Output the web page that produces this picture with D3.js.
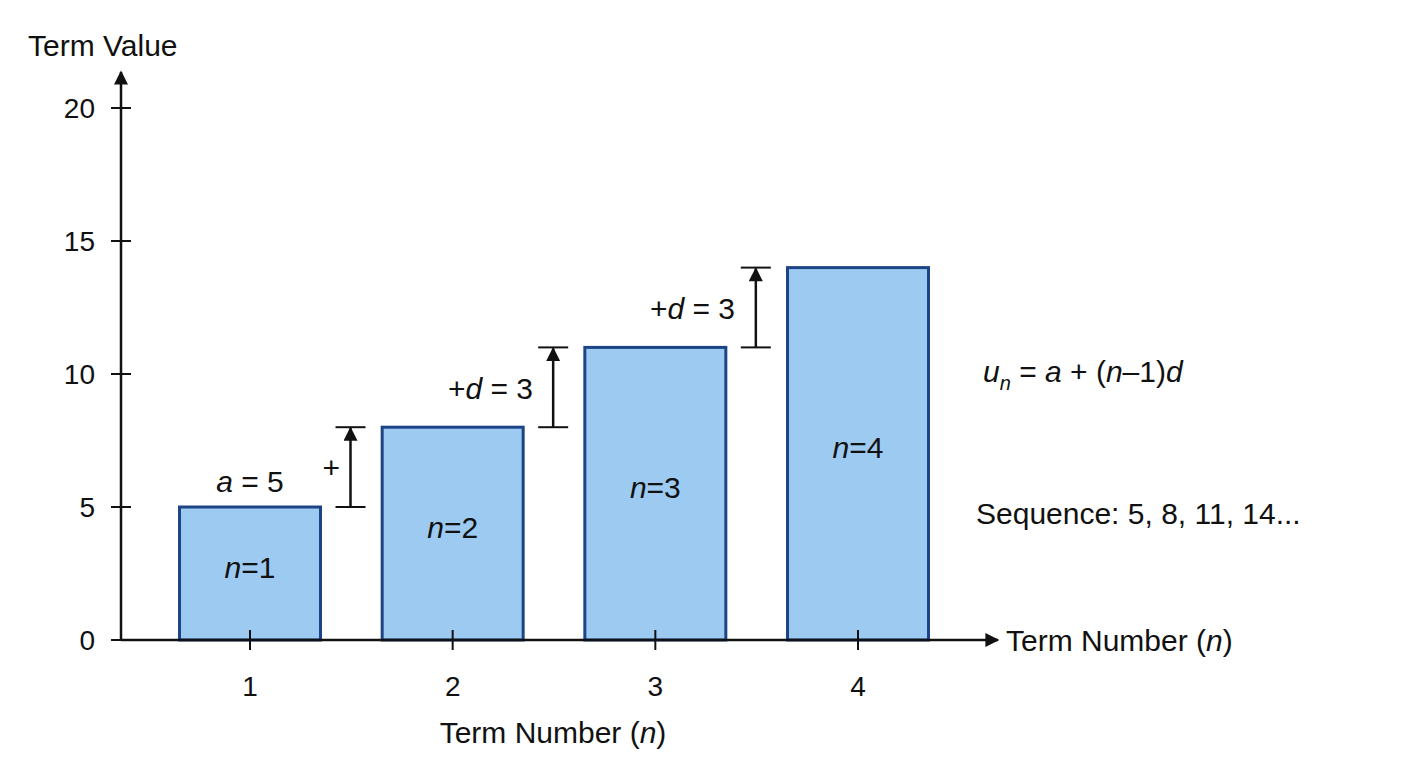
<!DOCTYPE html>
<html><head><meta charset="utf-8">
<script src="https://cdn.jsdelivr.net/npm/d3@7"></script>
<style>body{margin:0;background:#fff}text{font-family:"Liberation Sans",Arial,sans-serif;fill:#111}</style>
</head><body>
<script>
// data
var terms = [1, 2, 3, 4];
var values = [5, 8, 11, 14];
var yTicks = [0, 5, 10, 15, 20];
var stepLabels = ["+", "+d = 3", "+d = 3"];

var width = 1408, height = 768;
var svg = d3.select("body").append("svg").attr("width", width).attr("height", height);

var x = d3.scaleLinear().domain([1, 4]).range([250, 858]);
var y = d3.scaleLinear().domain([0, 20]).range([640, 108]);
var barW = 141;
var axisX = 121;

svg.append("defs").append("marker").attr("id", "ah")
  .attr("viewBox", "0 0 10 10").attr("refX", 9).attr("refY", 5)
  .attr("markerWidth", 7).attr("markerHeight", 7).attr("orient", "auto-start-reverse")
  .attr("markerUnits", "userSpaceOnUse")
  .append("path").attr("d", "M0,0L10,5L0,10z").attr("fill", "#111");
svg.append("defs").append("marker").attr("id", "ah2")
  .attr("viewBox", "0 0 10 10").attr("refX", 9).attr("refY", 5)
  .attr("markerWidth", 16).attr("markerHeight", 14).attr("orient", "auto")
  .attr("markerUnits", "userSpaceOnUse")
  .append("path").attr("d", "M0,0L10,5L0,10z").attr("fill", "#111");

// bars
svg.selectAll("rect.bar").data(values).enter().append("rect")
  .attr("class", "bar")
  .attr("x", (d, i) => x(terms[i]) - barW / 2)
  .attr("y", d => y(d))
  .attr("width", barW)
  .attr("height", d => y(0) - y(d))
  .attr("fill", "#9dcaf0").attr("stroke", "#1d4486").attr("stroke-width", 3);

// bar labels n=k
var lblY = [578, 538, 498, 458];
terms.forEach(function (t, i) {
  var tx = svg.append("text").attr("x", x(t)).attr("y", lblY[i])
    .attr("text-anchor", "middle").attr("font-size", 30);
  tx.append("tspan").attr("font-style", "italic").text("n");
  tx.append("tspan").text("=" + t);
});

// a = 5
var ta = svg.append("text").attr("x", x(1)).attr("y", 492).attr("text-anchor", "middle").attr("font-size", 30);
ta.append("tspan").attr("font-style", "italic").text("a");
ta.append("tspan").text(" = 5");

// step arrows
var labelPos = [[340, 478], [533, 399], [735, 319]];
for (var i = 0; i < values.length - 1; i++) {
  var ax = x(terms[i]) + barW / 2 + 30;
  var y0 = y(values[i]), y1 = y(values[i + 1]);
  [y0, y1].forEach(function (yy) {
    svg.append("line").attr("x1", ax - 15).attr("x2", ax + 15).attr("y1", yy).attr("y2", yy)
      .attr("stroke", "#111").attr("stroke-width", 2);
  });
  svg.append("line").attr("x1", ax).attr("x2", ax).attr("y1", y0).attr("y2", y1 + 1)
    .attr("stroke", "#111").attr("stroke-width", 2.5).attr("marker-end", "url(#ah2)");
  var lab = svg.append("text").attr("x", labelPos[i][0]).attr("y", labelPos[i][1])
    .attr("text-anchor", "end").attr("font-size", 30);
  if (stepLabels[i] === "+") lab.text("+");
  else {
    lab.append("tspan").text("+");
    lab.append("tspan").attr("font-style", "italic").text("d");
    lab.append("tspan").text(" = 3");
  }
}

// axes
svg.append("line").attr("x1", axisX).attr("x2", axisX).attr("y1", y(0)).attr("y2", 72)
  .attr("stroke", "#111").attr("stroke-width", 2.5).attr("marker-end", "url(#ah2)");
svg.append("line").attr("x1", axisX).attr("x2", 998).attr("y1", y(0)).attr("y2", y(0))
  .attr("stroke", "#111").attr("stroke-width", 2.5).attr("marker-end", "url(#ah2)");

yTicks.forEach(function (t) {
  svg.append("line").attr("x1", axisX - 10).attr("x2", axisX + 10).attr("y1", y(t)).attr("y2", y(t))
    .attr("stroke", "#111").attr("stroke-width", 2);
  svg.append("text").attr("x", 95).attr("y", y(t) + 10).attr("text-anchor", "end")
    .attr("font-size", 28).text(t);
});
terms.forEach(function (t) {
  svg.append("line").attr("x1", x(t)).attr("x2", x(t)).attr("y1", y(0) - 10).attr("y2", y(0) + 10)
    .attr("stroke", "#111").attr("stroke-width", 2);
  svg.append("text").attr("x", x(t)).attr("y", 696).attr("text-anchor", "middle")
    .attr("font-size", 28).text(t);
});

// titles
svg.append("text").attr("x", 28).attr("y", 56).attr("font-size", 30).text("Term Value");
function termNum(xx, yy, anchor) {
  var t = svg.append("text").attr("x", xx).attr("y", yy).attr("text-anchor", anchor).attr("font-size", 30);
  t.append("tspan").text("Term Number (");
  t.append("tspan").attr("font-style", "italic").text("n");
  t.append("tspan").text(")");
}
termNum(553, 743, "middle");
termNum(1006, 651, "start");

// formula
var f = svg.append("text").attr("x", 983).attr("y", 382).attr("font-size", 30);
f.append("tspan").attr("font-style", "italic").text("u");
f.append("tspan").attr("font-style", "italic").attr("font-size", 20).attr("dy", 8).text("n");
f.append("tspan").attr("dy", -8).text(" = ");
f.append("tspan").attr("font-style", "italic").text("a");
f.append("tspan").text(" + (");
f.append("tspan").attr("font-style", "italic").text("n");
f.append("tspan").text("–1)");
f.append("tspan").attr("font-style", "italic").text("d");

svg.append("text").attr("x", 976).attr("y", 524).attr("font-size", 30)
  .text("Sequence: " + values.join(", ") + "...");
</script>
</body></html>
